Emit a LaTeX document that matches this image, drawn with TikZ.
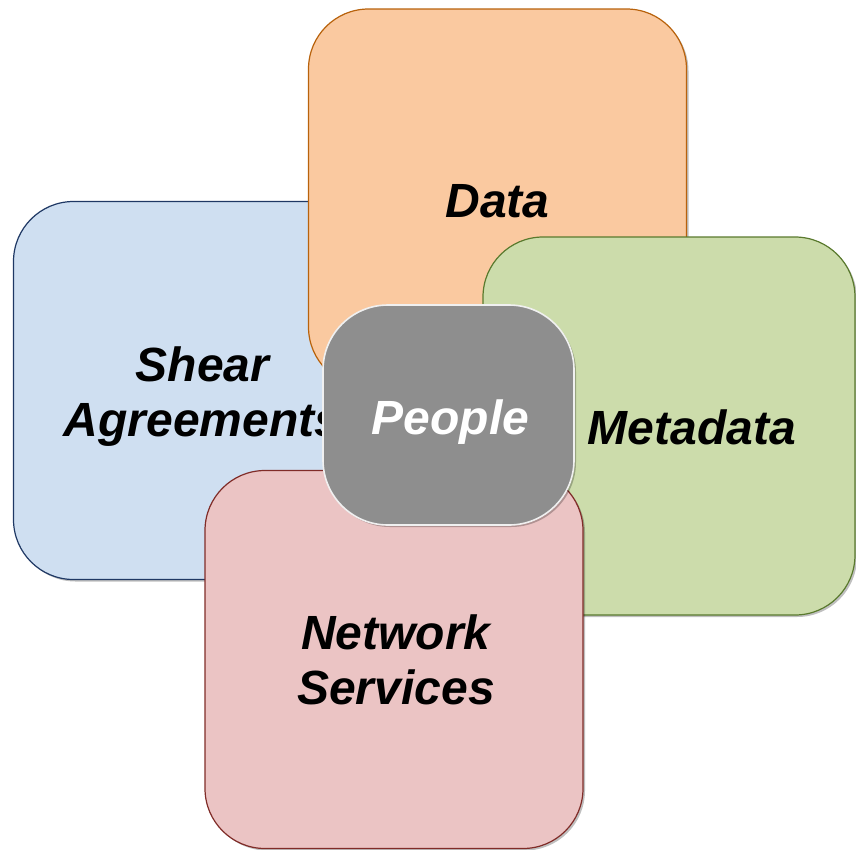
\documentclass[tikz,border=0pt]{standalone}
\usepackage{fontspec}
\setmainfont{Liberation Sans}
\usepackage{tikz}
\usetikzlibrary{shadows}

\definecolor{shearfill}{RGB}{207,223,241}
\definecolor{sheardraw}{RGB}{31,56,100}
\definecolor{datafill}{RGB}{250,201,160}
\definecolor{datadraw}{RGB}{184,98,12}
\definecolor{metafill}{RGB}{204,220,171}
\definecolor{metadraw}{RGB}{90,122,46}
\definecolor{netfill}{RGB}{235,196,196}
\definecolor{netdraw}{RGB}{128,44,40}
\definecolor{peoplefill}{RGB}{142,142,142}
\definecolor{peopledraw}{RGB}{240,240,240}

\begin{document}
\begin{tikzpicture}[x=1pt, y=-1pt,
        tile/.style={rectangle, rounded corners=60pt, line width=1.2pt,
            minimum width=378pt, minimum height=378pt, inner sep=0pt,
            drop shadow={shadow xshift=2pt, shadow yshift=-2pt, opacity=0.25, fill=black}},
        lbl/.style={font=\fontsize{48}{55}\selectfont\bfseries\itshape, align=center}]
            \useasboundingbox (0,0) rectangle (856,849);

            \node[tile, fill=shearfill, draw=sheardraw] (shear) at (202.5,390.5) {};
            \node[lbl] (shearlbl) at ([yshift=-6pt]shear.center) {Shear\\Agreements};

            \node[tile, fill=datafill, draw=datadraw] (data) at (497.5,198) {};
            \node[lbl] (datalbl) at ([yshift=-3pt]data.center) {Data};

            \node[tile, fill=metafill, draw=metadraw, minimum width=372pt] (meta) at (669,426) {};
            \node[lbl] (metalbl) at ([xshift=23pt, yshift=-1pt]meta.center) {Metadata};

            \node[tile, fill=netfill, draw=netdraw] (netsvc) at (394,659.5) {};
            \node[lbl] (netsvclbl) at ([xshift=2pt]netsvc.center) {Network\\Services};

            \node[tile, fill=peoplefill, draw=peopledraw, line width=1.6pt, rounded corners=65pt,
                minimum width=251pt, minimum height=220pt] (people) at (448.5,415) {};
            \node[lbl, text=white] (peoplelbl) at ([xshift=2pt, yshift=-7pt]people.center) {People};
        \end{tikzpicture}
\end{document}
